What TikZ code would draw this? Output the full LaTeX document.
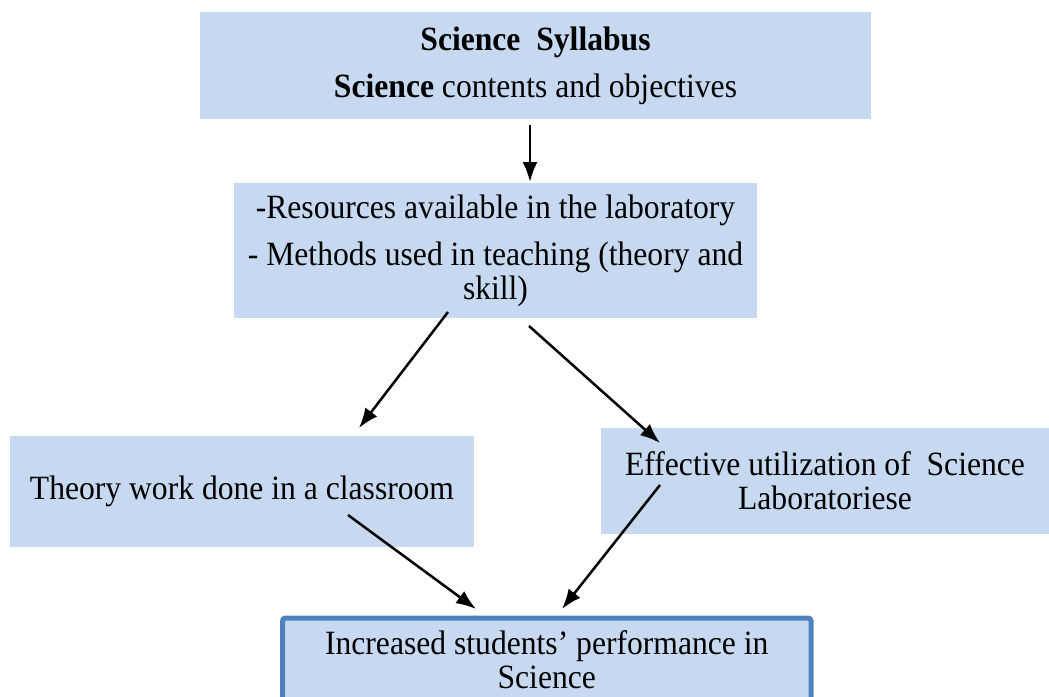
\documentclass[tikz,border=0pt]{standalone}
\usepackage{fontspec}
\setmainfont{Liberation Serif}[FakeStretch=0.93]
\usetikzlibrary{arrows.meta,calc}
\definecolor{bleuclair}{HTML}{C6D9F1}
\definecolor{bleubord}{HTML}{4F81BD}
\begin{document}
\begin{tikzpicture}[x=1pt,y=-1pt]
		% définition des styles
		\tikzstyle{boite}=[rectangle,fill=bleuclair,text=black,align=center,inner sep=0pt,outer sep=0pt,font=\fontsize{34}{34}\selectfont]
		\tikzstyle{resultat}=[boite,draw=bleubord,line width=5pt,rounded corners=3pt]
		\tikzstyle{fleche}=[-{Latex[length=20pt,width=15pt]},line width=2.5pt]
		\useasboundingbox (0,0) rectangle (1049,696);
		% les nœuds
		\node[boite,minimum width=671,minimum height=107] (syll) at (535.5,65.5)
			{\textbf{Science~~Syllabus}\\[13pt]\textbf{Science} contents and objectives};
		\node[boite,minimum width=523,minimum height=135] (res) at (495.5,250.5)
			{-Resources available in the laboratory\\[13pt]- Methods used in teaching (theory and\\skill)};
		\node[boite,minimum width=464,minimum height=111] (theory) at (242,491.5)
			{Theory work done in a classroom};
		\node[boite,minimum width=448,minimum height=106] (lab) at (825,481)
			{Effective utilization of~~Science\\Laboratoriese};
		\node[resultat,minimum width=528.5,minimum height=84] (perf) at (546.75,660)
			{Increased students’ performance in\\Science};
		% les flèches
		\draw[fleche] ($(syll.south)+(-5.5,6)$) -- ($(res.north)+(34.5,-1)$);
		\draw[fleche] ($(res.south)+(-47.5,-6)$) -- ($(theory.north)+(117,-8)$);
		\draw[fleche] ($(res.south)+(33.5,8)$) -- ($(lab.north)+(-165,15)$);
		\draw[fleche] ($(theory.center)+(106,23.5)$) -- ($(perf.north)+(-70.75,-9)$);
		\draw[fleche] ($(lab.center)+(-165,4)$) -- ($(perf.north)+(15.25,-9)$);
	\end{tikzpicture}
\end{document}
